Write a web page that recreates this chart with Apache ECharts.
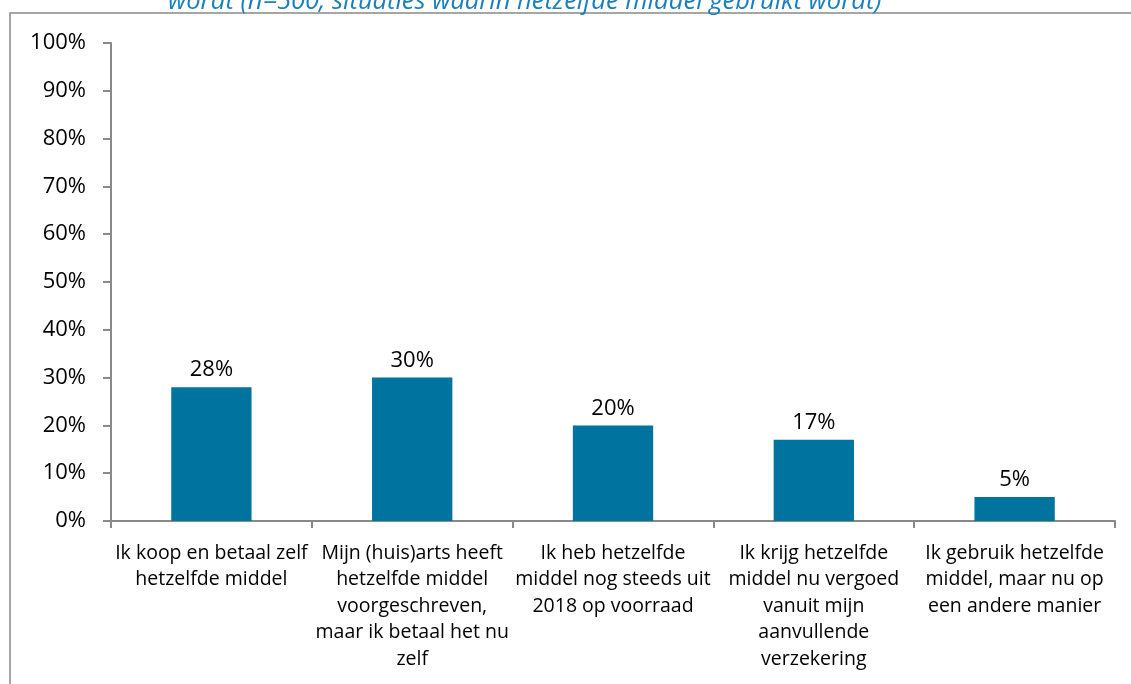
<!DOCTYPE html>
<html>
<head>
<meta charset="utf-8">
<script src="https://cdn.jsdelivr.net/npm/echarts@6/dist/echarts.min.js"></script>
<style>
  html, body { margin: 0; padding: 0; background: #fff; }
  #main { width: 1131px; height: 684px; }
</style>
</head>
<body>
<div id="main"></div>
<script>
// categorieen (met de regelafbreking zoals in het origineel)
var categories = [
  'Ik koop en betaal zelf\nhetzelfde middel',
  'Mijn (huis)arts heeft\nhetzelfde middel\nvoorgeschreven,\nmaar ik betaal het nu\nzelf',
  'Ik heb hetzelfde\nmiddel nog steeds uit\n2018 op voorraad',
  'Ik krijg hetzelfde\nmiddel nu vergoed\nvanuit mijn\naanvullende\nverzekering',
  'Ik gebruik hetzelfde\nmiddel, maar nu op\neen andere manier'
]
var values = [28, 30, 20, 17, 5]
var yTicks = [0, 100, 10] // min, max, interval
var titleText = 'wordt (n=500, situaties waarin hetzelfde middel gebruikt wordt)'

var myChart = echarts.init(document.getElementById('main'))
var axisColor = '#898989'
var option = {
  animation: false,
  backgroundColor: '#fff',
  textStyle: { fontFamily: 'Open Sans' },
  title: {
    text: titleText,
    left: 163,
    top: -16,
    textStyle: {
      fontFamily: 'Open Sans',
      fontStyle: 'italic',
      fontWeight: 'normal',
      fontSize: 25.5,
      color: '#1a7fbc'
    }
  },
  graphic: [{
    type: 'rect',
    shape: { x: 10, y: 13, width: 1200, height: 720 },
    style: { fill: 'none', stroke: axisColor, lineWidth: 1.5 },
    silent: true
  }],
  grid: {
    left: 111,
    right: 16,
    top: 43,
    bottom: 163
  },
  xAxis: {
    type: 'category',
    data: categories,
    axisLine: { lineStyle: { color: axisColor, width: 2 } },
    axisTick: { show: true, length: 7, lineStyle: { color: axisColor, width: 2 } },
    axisLabel: {
      interval: 0,
      margin: 19,
      color: '#000',
      fontSize: 19.5,
      lineHeight: 26.5,
      align: 'center'
    }
  },
  yAxis: {
    type: 'value',
    min: yTicks[0],
    max: yTicks[1],
    interval: yTicks[2],
    axisLine: { show: true, lineStyle: { color: axisColor, width: 2 } },
    axisTick: { show: true, length: 8, lineStyle: { color: axisColor, width: 2 } },
    splitLine: { show: false },
    axisLabel: {
      formatter: '{value}%',
      margin: 25,
      color: '#000',
      fontSize: 22
    }
  },
  series: [{
    type: 'bar',
    data: values,
    barCategoryGap: '60%',
    itemStyle: { color: '#00739f' },
    label: {
      show: true,
      position: 'top',
      distance: 6,
      formatter: '{c}%',
      color: '#000',
      fontSize: 22
    }
  }]
}
myChart.setOption(option)
</script>
</body>
</html>
